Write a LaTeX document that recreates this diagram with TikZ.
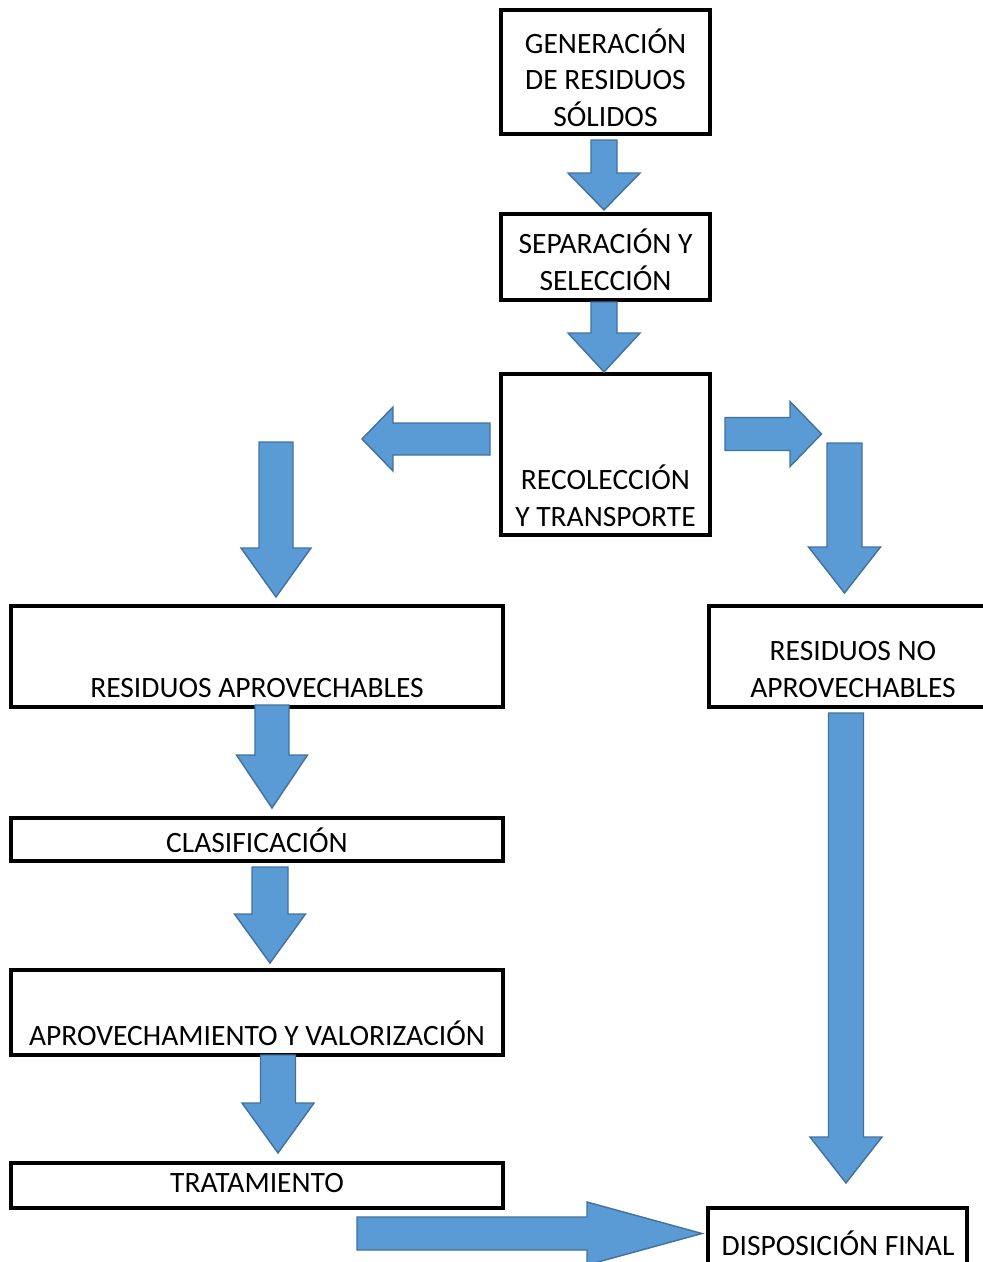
\documentclass[tikz,border=0pt]{standalone}
\usepackage{fontspec}
\setmainfont{Carlito}

\definecolor{azul}{HTML}{5B9BD5}
\definecolor{borde}{HTML}{41719C}

\newdimen\px \px=0.02cm

\tikzset{
  caja/.style={draw,line width=2pt,inner sep=0pt},
  texto/.style={font=\fontsize{16.8}{20.5}\selectfont,align=center,inner sep=0pt,anchor=base},
  flecha/.style={fill=azul,draw=borde,line width=0.8pt,line join=miter}
}

% flecha vertical: x, y arriba, medio cuerpo, y cabeza, media cabeza, y punta
\newcommand{\flechav}[6]{%
  \draw[flecha] (#1-#3,#2) -- (#1+#3,#2) -- (#1+#3,#4) -- (#1+#5,#4)
    -- (#1,#6) -- (#1-#5,#4) -- (#1-#3,#4) -- cycle;}
% flecha horizontal: y, x cola, medio cuerpo, x cabeza, media cabeza, x punta
\newcommand{\flechah}[6]{%
  \draw[flecha] (#2,#1-#3) -- (#4,#1-#3) -- (#4,#1-#5) -- (#6,#1)
    -- (#4,#1+#5) -- (#4,#1+#3) -- (#2,#1+#3) -- cycle;}

\begin{document}
\begin{tikzpicture}[x=0.02cm,y=-0.02cm]
\useasboundingbox (0,0) rectangle (983,1262);
\clip (0,0) rectangle (983,1262);

\node[caja,minimum width=209\px,minimum height=124\px] at (605.5,72) (gen) {};
\node[caja,minimum width=209\px,minimum height=86\px] at (605.5,257) (sep) {};
\node[caja,minimum width=209\px,minimum height=161\px] at (605.5,454.5) (rec) {};
\node[caja,minimum width=492\px,minimum height=101\px] at (257,656.5) (resA) {};
\node[caja,minimum width=291\px,minimum height=101\px] at (854.5,656.5) (resNo) {};
\node[caja,minimum width=492\px,minimum height=43\px] at (257,839.5) (clas) {};
\node[caja,minimum width=492\px,minimum height=85\px] at (257,1012.5) (aprov) {};
\node[caja,minimum width=492\px,minimum height=45\px] at (257,1185.5) (trat) {};
\node[caja,minimum width=259\px,minimum height=82\px] at (837.5,1249) (disp) {};

% el ancla base cae en la ultima linea
\node[texto] at (605.5,126) (genT) {GENERACIÓN\\DE RESIDUOS\\SÓLIDOS};
\node[texto] at (605.5,290) (sepT) {SEPARACIÓN Y\\SELECCIÓN};
\node[texto] at (605.5,526) (recT) {RECOLECCIÓN\\Y TRANSPORTE};
\node[texto] at (257,697) (resAT) {RESIDUOS APROVECHABLES};
\node[texto] at (853,697) (resNoT) {RESIDUOS NO\\APROVECHABLES};
\node[texto] at (257,852) (clasT) {CLASIFICACIÓN};
\node[texto] at (257,1045) (aprovT) {APROVECHAMIENTO Y VALORIZACIÓN};
\node[texto] at (257,1192) (tratT) {TRATAMIENTO};
\node[texto] at (838,1255) (dispT) {DISPOSICIÓN FINAL};

\flechav{604}{140}{13}{173}{36}{210}
\flechav{604}{302}{13}{333}{36}{372}
\flechah{439}{490}{16}{393}{32}{362}
\flechah{434}{725}{16.5}{790}{32.5}{821.5}
\flechav{276}{442}{17}{548}{35}{597}
\flechav{844.5}{443}{17.5}{547}{36}{593}
\flechav{272}{705}{17}{755}{35.5}{808}
\flechav{270}{867}{18}{914}{35.5}{963}
\flechav{278}{1055}{17.5}{1103}{36}{1153}
\flechav{846}{713}{17.5}{1137}{36}{1183}
\flechah{1233.5}{357}{16.5}{587}{31.5}{702}
\end{tikzpicture}
\end{document}
